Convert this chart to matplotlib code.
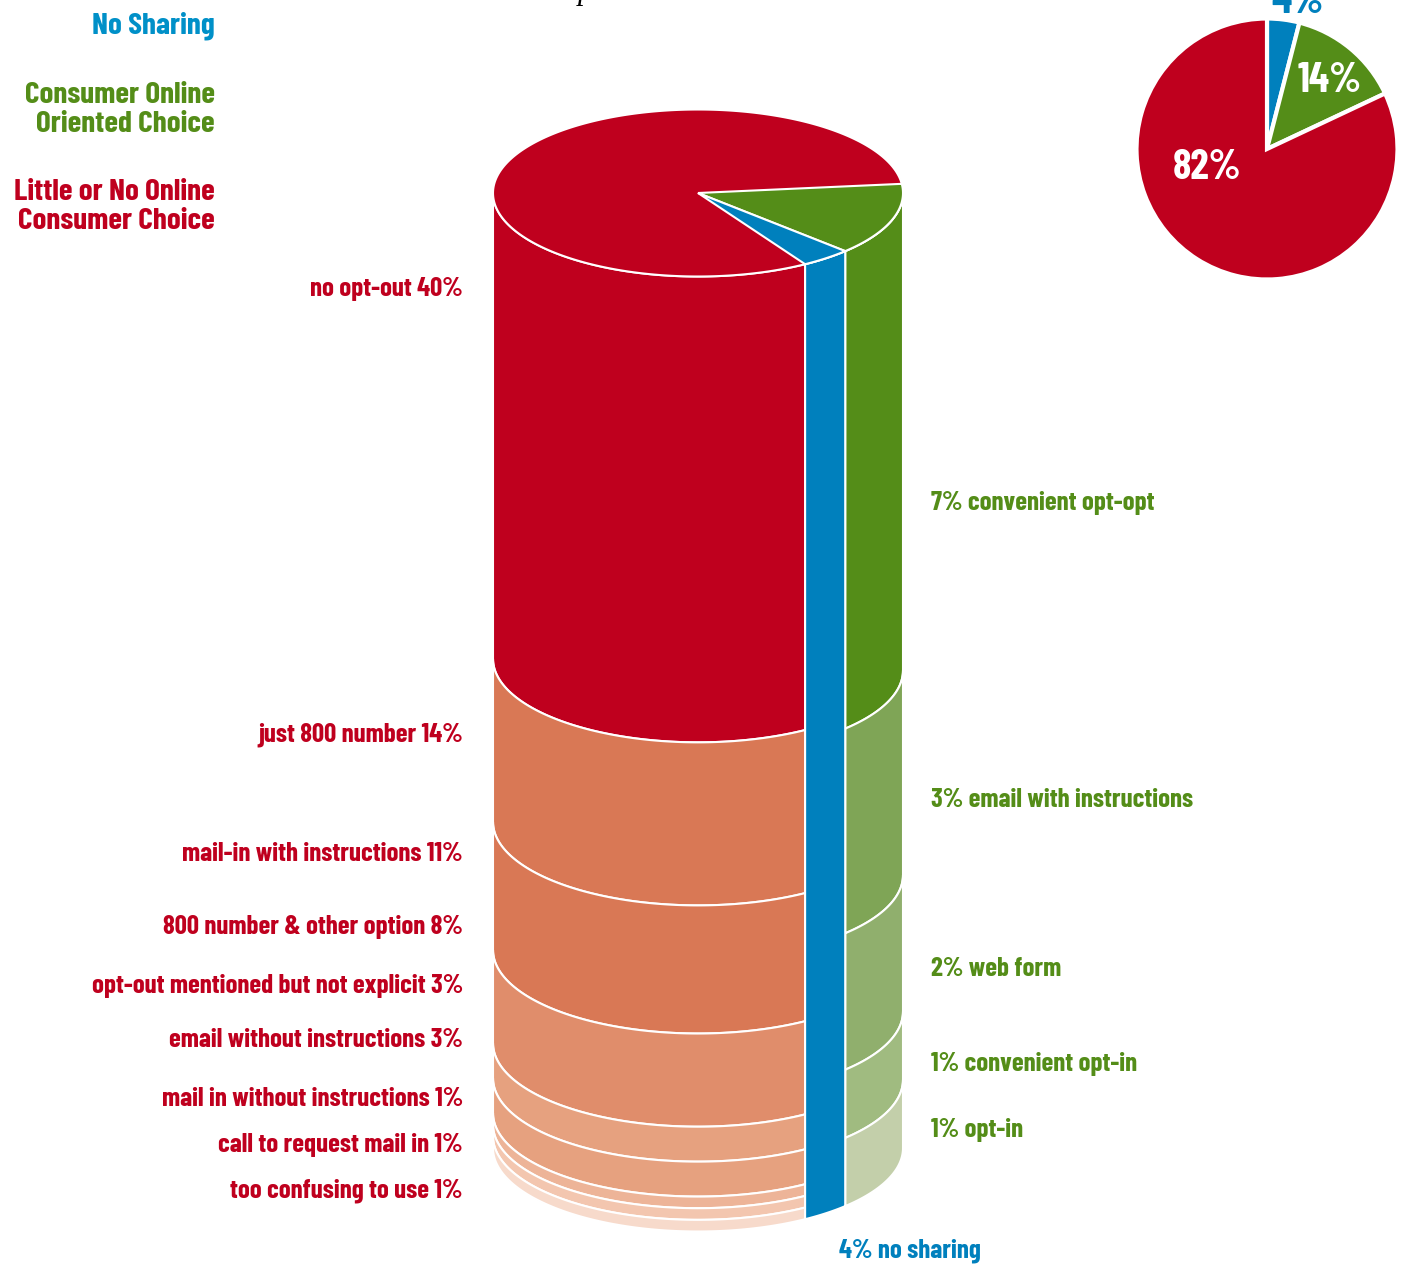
import numpy as np
import matplotlib
matplotlib.use("Agg")
import matplotlib.pyplot as plt
from matplotlib.patches import Polygon

# Share of sites per top-level category
group_names = ["No Sharing", "Consumer Online\nOriented Choice", "Little or No Online\nConsumer Choice"]
group_shares = [4, 14, 82]

# Breakdown of each category, top layer first
red_labels = ["no opt-out", "just 800 number", "mail-in with instructions", "800 number & other option",
              "opt-out mentioned but not explicit", "email without instructions",
              "mail in without instructions", "call to request mail in", "too confusing to use"]
red_values = [40, 14, 11, 8, 3, 3, 1, 1, 1]
green_labels = ["convenient opt-opt", "email with instructions", "web form", "convenient opt-in", "opt-in"]
green_values = [7, 3, 2, 1, 1]
blue_label = "no sharing"
blue_values = [4]

BLUE = "#0080BD"
BLUE_TEXT = "#0090C8"
GREEN = "#548D18"
RED = "#BF001E"
red_shades = [RED, "#D97855", "#D97855", "#E08D6B", "#E6A17F", "#E6A17F", "#EDB498", "#F3C6AF", "#F7DACB"]
green_shades = [GREEN, "#7FA556", "#90AF6D", "#A0BB80", "#C3CFAA"]

FONT = ["Barlow Condensed", "Liberation Sans", "DejaVu Sans"]
LABEL_SIZE = 19.4

W, H = 1403, 1264
fig = plt.figure(figsize=(W / 100, H / 100), dpi=100, facecolor="white")
ax = fig.add_axes([0, 0, 1, 1])
ax.set_xlim(0, W)
ax.set_ylim(H, 0)
ax.axis("off")

# Cylinder geometry, in figure pixels
CX, CY, RX, RY, DEPTH = 698.0, 193.0, 205.0, 83.5, 955.0
START = -6.3  # where the green wedge begins on the lid, degrees


def arc(t0, t1, drop=0.0, n=120):
    t = np.radians(np.linspace(t0, t1, n))
    return np.column_stack([CX + RX * np.cos(t), CY + RY * np.sin(t) + drop])


def draw_side(t0, t1, values, colors, zorder):
    """Stack a category's layers on its slice of the cylinder wall."""
    total = sum(values)
    edges = np.cumsum([0] + list(values)) / total * DEPTH
    for i in range(len(values)):
        pts = np.vstack([arc(t0, t1, edges[i]), arc(t1, t0, edges[i + 1])])
        ax.add_patch(Polygon(pts, closed=True, facecolor=colors[i], edgecolor="white",
                             linewidth=1.5, joinstyle="round", zorder=zorder))


deg_per_share = 360.0 / sum(group_shares)
green_end = START + group_shares[1] * deg_per_share
blue_end = green_end + group_shares[0] * deg_per_share

draw_side(max(START, 0), green_end, green_values, green_shades, 2)
draw_side(green_end, blue_end, blue_values, [BLUE], 3)
draw_side(blue_end, 180, red_values, red_shades, 2)

# Lid of the cylinder
lid = arc(0, 360, n=360)
ax.add_patch(Polygon(lid, closed=True, facecolor=RED, edgecolor="white", linewidth=1.5, zorder=4))
for t0, t1, c in [(START, green_end, GREEN), (green_end, blue_end, BLUE)]:
    pts = np.vstack([[CX, CY], arc(t0, t1)])
    ax.add_patch(Polygon(pts, closed=True, facecolor=c, edgecolor="white", linewidth=1.5, zorder=5))

# Category names
legend_rows = [(26, group_names[0], BLUE_TEXT), (110, group_names[1], GREEN), (207, group_names[2], RED)]
for y, name, color in legend_rows:
    ax.text(215, y, name, ha="right", va="center", color=color, family=FONT, weight="bold",
            fontsize=22.5, linespacing=1.08)

# Layer labels
red_y = [289, 735, 854, 927, 986, 1040, 1099, 1145, 1191]
for y, name, v in zip(red_y, red_labels, red_values):
    ax.text(463, y, f"{name} {v}%", ha="right", va="center", color=RED, family=FONT,
            weight="bold", fontsize=LABEL_SIZE)
green_y = [503, 800, 969, 1064, 1130]
for y, name, v in zip(green_y, green_labels, green_values):
    ax.text(931, y, f"{v}% {name}", ha="left", va="center", color=GREEN, family=FONT,
            weight="bold", fontsize=LABEL_SIZE)
ax.text(839, 1251, f"{blue_values[0]}% {blue_label}", ha="left", va="center", color=BLUE,
        family=FONT, weight="bold", fontsize=LABEL_SIZE)

# Remnant of the heading, cut by the top edge
ax.text(578, -8, "p", ha="left", va="center", family="Liberation Serif", style="italic",
        fontsize=22, color="black")

# Summary pie
PX, PY, PR = 1267.0, 149.0, 130.5
pie_ax = fig.add_axes([(PX - PR - 3) / W, 1 - (PY + PR + 3) / H, (2 * PR + 6) / W, (2 * PR + 6) / H])
pie_ax.pie(group_shares, colors=[BLUE, GREEN, RED], startangle=90, counterclock=False,
           radius=1.0, wedgeprops={"edgecolor": "white", "linewidth": 3})
pie_ax.set_xlim(-(PR + 3) / PR, (PR + 3) / PR)
pie_ax.set_ylim(-(PR + 3) / PR, (PR + 3) / PR)

ax.set_zorder(5)
ax.patch.set_alpha(0)
ax.text(1330, 81, f"{group_shares[1]}%", ha="center", va="center", color="white", family=FONT,
        weight="bold", fontsize=30)
ax.text(1207, 168, f"{group_shares[2]}%", ha="center", va="center", color="white", family=FONT,
        weight="bold", fontsize=30)
ax.text(1297, 2, f"{group_shares[0]}%", ha="center", va="center", color=BLUE, family=FONT,
        weight="bold", fontsize=30)

fig.savefig("out.png", dpi=100, facecolor="white")
